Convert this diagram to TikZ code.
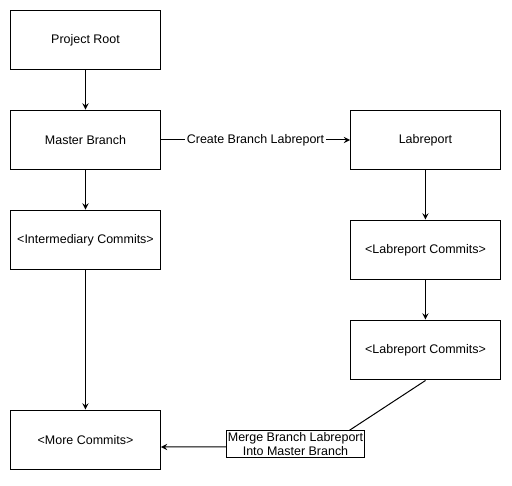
\documentclass[tikz,border=0pt]{standalone}
\usepackage{fontspec}
\setmainfont{Liberation Sans}
\begin{document}
\begin{tikzpicture}[
    x=0.02cm, y=-0.02cm,
    box/.style={draw, line width=0.57pt, minimum width=3cm, minimum height=1.2cm, align=center, font=\fontsize{7.1}{8.3}\selectfont},
    arrow/.style={->, line width=0.57pt, >=stealth},
    lbl/.style={fill=white, inner sep=1pt, font=\fontsize{7.1}{8.3}\selectfont}
]
    \useasboundingbox (0,0) rectangle (512,486);

    % Master side
    \node[box] (root) at (85.5,40) {Project Root};
    \node[box] (master) at (85.5,140) {Master Branch};
    \node[box] (inter) at (85.5,240) {<Intermediary Commits>};
    \node[box] (more) at (85.5,440) {<More Commits>};

    % Labreport side
    \node[box] (lab) at (425.5,140) {Labreport};
    \node[box] (labcA) at (425.5,250) {<Labreport Commits>};
    \node[box] (labcB) at (425.5,350) {<Labreport Commits>};

    % Main arrows
    \draw[arrow] (root) -- (master);
    \draw[arrow] (master) -- (inter);
    \draw[arrow] (inter) -- (more);
    \draw[arrow] (lab) -- (labcA);
    \draw[arrow] (labcA) -- (labcB);

    % Branch and merge
    \draw[arrow] (master) -- (lab) node[midway, lbl] {Create Branch Labreport};
    \coordinate (mergebend) at (324,447);
    \draw[arrow] (labcB.south) -- (mergebend) -- (more.east |- mergebend);
    \node[draw, fill=white, line width=0.57pt, inner sep=1pt, align=center, font=\fontsize{7.1}{8.3}\selectfont, minimum width=2.66cm] (merge) at (295.5,444) {Merge Branch Labreport\\Into Master Branch};

\end{tikzpicture}
\end{document}
